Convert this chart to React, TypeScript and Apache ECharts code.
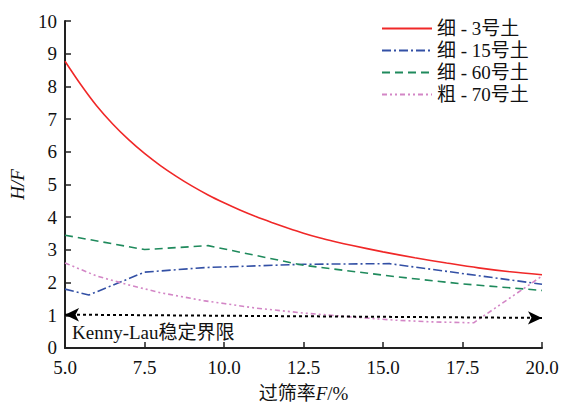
import React, { useEffect, useRef } from "react";
import * as echarts from "echarts";

const seriesNames = ["细 - 3号土", "细 - 15号土", "细 - 60号土", "粗 - 70号土"];
const fine3: [number, number][] = [
  [5.0, 8.77], [5.5, 8.05], [6.0, 7.4], [6.5, 6.85], [7.0, 6.37], [7.5, 5.95], [8.0, 5.58],
  [8.5, 5.25], [9.0, 4.95], [9.5, 4.68], [10.0, 4.44], [10.5, 4.22], [11.0, 4.02], [11.5, 3.84],
  [12.0, 3.67], [12.5, 3.51], [13.0, 3.37], [13.5, 3.25], [14.0, 3.14], [15.0, 2.94],
  [16.0, 2.76], [17.0, 2.6], [18.0, 2.45], [19.0, 2.33], [20.0, 2.24],
];
const fine15: [number, number][] = [
  [5.0, 1.8], [5.75, 1.62], [7.5, 2.32], [9.4, 2.46], [12.5, 2.56], [15.2, 2.58], [20.0, 1.95],
];
const fine60: [number, number][] = [
  [5.0, 3.45], [7.5, 3.01], [9.5, 3.13], [12.5, 2.53], [15.4, 2.18], [17.5, 1.96], [20.0, 1.76],
];
const coarse70: [number, number][] = [
  [5.0, 2.6], [6.0, 2.2], [7.0, 1.93], [7.5, 1.81], [8.0, 1.69], [9.4, 1.44], [10.0, 1.36],
  [11.0, 1.22], [12.5, 1.07], [14.0, 0.95], [15.4, 0.85], [16.5, 0.8], [17.85, 0.77], [20.0, 2.2],
];
const limitLine: [number, number][] = [[5.0, 1.02], [20.0, 0.92]];
const limitLabel = "Kenny-Lau稳定界限";

const colors = ["#f02828", "#3350a5", "#1f8a5c", "#d386c6"];
const dashes: any[] = ["solid", [9, 3, 2, 3], [8, 5], [5, 3, 2, 3, 2, 3]];

const FONT = "'Liberation Serif', 'Noto Sans CJK SC', serif";
const FS = 19;

export default function App() {
  const ref = useRef<HTMLDivElement>(null);
  useEffect(() => {
    document.body.style.margin = "0";
    if (!ref.current) return;
    const chart = echarts.init(ref.current, null, { renderer: "svg" });
    const datasets = [fine3, fine15, fine60, coarse70];
    const series: any[] = datasets.map((d, i) => ({
      name: seriesNames[i],
      type: "line",
      data: d,
      symbol: "none",
      smooth: i === 0 ? 0.3 : false,
      lineStyle: { color: colors[i], width: 1.6, type: dashes[i] },
      itemStyle: { color: colors[i] },
      z: 3,
    }));
    series.push({
      name: "limit",
      type: "line",
      data: [],
      symbol: "none",
      markLine: {
        silent: true,
        symbol: ["arrow", "arrow"],
        symbolSize: [10, 14],
        label: { show: false },
        lineStyle: { color: "#000", width: 2, type: [3, 3] },
        data: [[{ coord: limitLine[0] }, { coord: limitLine[1] }]],
      },
    });
    chart.setOption({
      animation: false,
      textStyle: { fontFamily: FONT },
      grid: { left: 58, right: 20, top: 21, bottom: 56, containLabel: false },
      legend: {
        data: seriesNames,
        orient: "vertical",
        left: 376,
        top: 14,
        itemWidth: 50,
        itemHeight: 10,
        itemGap: 3,
        itemStyle: { opacity: 0 },
        textStyle: { fontFamily: FONT, fontSize: FS, color: "#111", lineHeight: 19 },
      },
      xAxis: {
        type: "value",
        min: 5,
        max: 20,
        interval: 2.5,
        name: "过筛率{i|F}/%",
        nameLocation: "middle",
        nameGap: 36,
        nameTextStyle: {
          fontFamily: FONT,
          fontSize: FS,
          color: "#111",
          rich: { i: { fontFamily: FONT, fontSize: FS, fontStyle: "italic", color: "#111" } },
        },
        axisLine: { lineStyle: { color: "#222", width: 2 } },
        axisTick: { inside: true, length: 6, lineStyle: { color: "#222", width: 1.5 } },
        axisLabel: {
          fontFamily: FONT,
          fontSize: FS,
          color: "#111",
          margin: 10,
          formatter: (v: number) => v.toFixed(1),
        },
        splitLine: { show: false },
      },
      yAxis: {
        type: "value",
        min: 0,
        max: 10,
        interval: 1,
        name: "H/F",
        nameLocation: "middle",
        nameGap: 38,
        nameRotate: 90,
        nameTextStyle: { fontFamily: FONT, fontSize: FS, fontStyle: "italic", color: "#111" },
        axisLine: { show: true, lineStyle: { color: "#222", width: 2 } },
        axisTick: { show: true, inside: true, length: 6, lineStyle: { color: "#222", width: 1.5 } },
        axisLabel: { fontFamily: FONT, fontSize: FS, color: "#111", margin: 8 },
        splitLine: { show: false },
      },
      graphic: [
        {
          type: "text",
          left: 72,
          top: 323,
          style: { text: limitLabel, fontFamily: FONT, fontSize: FS, fill: "#111" },
        },
      ],
      series,
    });
    return () => chart.dispose();
  }, []);
  return <div ref={ref} style={{ width: 562, height: 408 }} />;
}
